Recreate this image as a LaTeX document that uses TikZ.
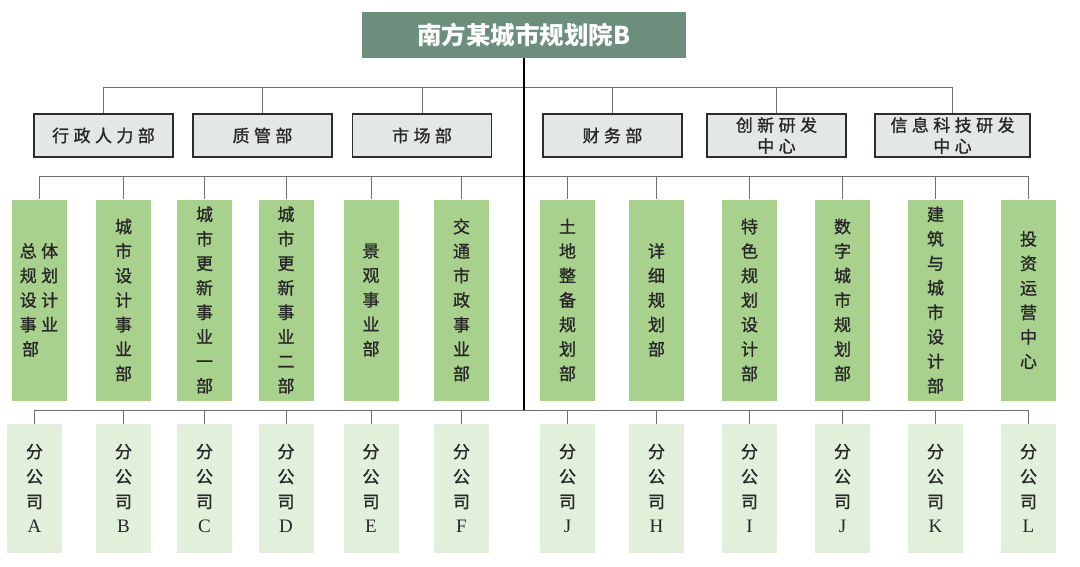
\documentclass[tikz,border=0pt]{standalone}
\usepackage{fontspec}
\setmainfont{Liberation Serif}
\newfontfamily\cjk{Noto Sans CJK SC}[FakeBold=1.2]
\newfontfamily\cjktitle{Noto Sans CJK SC}
\newfontfamily\cjkls{Noto Sans CJK SC}[LetterSpace=26,FakeBold=1.2]
\definecolor{titlefill}{RGB}{107,143,124}
\definecolor{deptfill}{RGB}{227,232,229}
\definecolor{boxline}{RGB}{45,45,45}
\definecolor{busfill}{RGB}{169,209,142}
\definecolor{subfill}{RGB}{226,239,218}
\definecolor{txt}{RGB}{40,40,40}
\definecolor{linegrey}{RGB}{110,110,110}
\newcommand{\ltr}[1]{{\rmfamily\fontsize{19}{24.5}\selectfont #1}}
\begin{document}
\begin{tikzpicture}[x=1pt,y=-1pt,
  titlebox/.style={fill=titlefill,text=white,font=\cjktitle\bfseries\fontsize{24.5}{27}\selectfont,minimum width=324pt,minimum height=46pt,inner sep=0pt},
  deptbox/.style={draw=boxline,line width=1.2pt,fill=deptfill,minimum width=139pt,minimum height=43pt,inner sep=0pt,font=\cjkls\fontsize{17}{21}\selectfont,text=txt,align=center},
  busbox/.style={fill=busfill,minimum width=55pt,minimum height=201pt,inner sep=0pt,text=txt,align=center,font=\cjk\fontsize{17}{24.5}\selectfont},
  subbox/.style={fill=subfill,minimum width=55pt,minimum height=129pt,inner sep=0pt,text=txt,align=center,font=\cjk\fontsize{17}{25}\selectfont},
  conn/.style={draw=linegrey,line width=0.9pt},
  trunk/.style={draw=black,line width=1.3pt}]
\useasboundingbox (0,0) rectangle (1080,566);

\node[titlebox] (top) at (524,35) {南方某城市规划院B};

% level 2
\node[deptbox] (d1) at (103.5,135.5) {行政人力部};
\node[deptbox] (d2) at (262.5,135.5) {质管部};
\node[deptbox] (d3) at (422,135.5) {市场部};
\node[deptbox] (d4) at (612.5,135.5) {财务部};
\node[deptbox] (d5) at (776.5,135.5) {创新研发\\中心};
\node[deptbox,minimum width=155pt] (d6) at (952.5,135.5) {信息科技研发\\中心};

% level 3
\node[busbox] (g1) at (39,300) {\cjkls 总体\\\cjkls 规划\\\cjkls 设计\\\cjkls 事业\\\cjkls 部\phantom{部}};
\node[busbox] (g2) at (123.5,300) {城\\市\\设\\计\\事\\业\\部};
\node[busbox] (g3) at (204.5,300) {城\\市\\更\\新\\事\\业\\一\\部};
\node[busbox] (g4) at (286,300) {城\\市\\更\\新\\事\\业\\二\\部};
\node[busbox] (g5) at (371,300) {景\\观\\事\\业\\部};
\node[busbox] (g6) at (461.5,300) {交\\通\\市\\政\\事\\业\\部};
\node[busbox] (g7) at (567.5,300) {土\\地\\整\\备\\规\\划\\部};
\node[busbox] (g8) at (656.5,300) {详\\细\\规\\划\\部};
\node[busbox] (g9) at (749.5,300) {特\\色\\规\\划\\设\\计\\部};
\node[busbox] (g10) at (842.5,300) {数\\字\\城\\市\\规\\划\\部};
\node[busbox] (g11) at (935.5,300) {建\\筑\\与\\城\\市\\设\\计\\部};
\node[busbox] (g12) at (1028.5,300) {投\\资\\运\\营\\中\\心};

% level 4
\node[subbox] (s1) at (34.5,488.5) {分\\公\\司\\\ltr{A}};
\node[subbox] (s2) at (123.5,488.5) {分\\公\\司\\\ltr{B}};
\node[subbox] (s3) at (204.5,488.5) {分\\公\\司\\\ltr{C}};
\node[subbox] (s4) at (286,488.5) {分\\公\\司\\\ltr{D}};
\node[subbox] (s5) at (371,488.5) {分\\公\\司\\\ltr{E}};
\node[subbox] (s6) at (461.5,488.5) {分\\公\\司\\\ltr{F}};
\node[subbox] (s7) at (567.5,488.5) {分\\公\\司\\\ltr{J}};
\node[subbox] (s8) at (656.5,488.5) {分\\公\\司\\\ltr{H}};
\node[subbox] (s9) at (749.5,488.5) {分\\公\\司\\\ltr{I}};
\node[subbox] (s10) at (842.5,488.5) {分\\公\\司\\\ltr{J}};
\node[subbox] (s11) at (935.5,488.5) {分\\公\\司\\\ltr{K}};
\node[subbox] (s12) at (1028.5,488.5) {分\\公\\司\\\ltr{L}};

% bus coordinates
\coordinate (b2) at (524,87);
\coordinate (b3) at (524,176);
\coordinate (b4) at (524,410);

\foreach \n in {d1,d2,d3,d4,d5,d6} \draw[conn] (\n.north) |- (b2);
\foreach \n in {g1,g2,g3,g4,g5,g6,g7,g8,g9,g10,g11,g12} \draw[conn] (\n.north) |- (b3);
\foreach \n in {s1,s2,s3,s4,s5,s6,s7,s8,s9,s10,s11,s12} \draw[conn] (\n.north) |- (b4);

\draw[trunk] (top.south) -- (b4);
\end{tikzpicture}
\end{document}
